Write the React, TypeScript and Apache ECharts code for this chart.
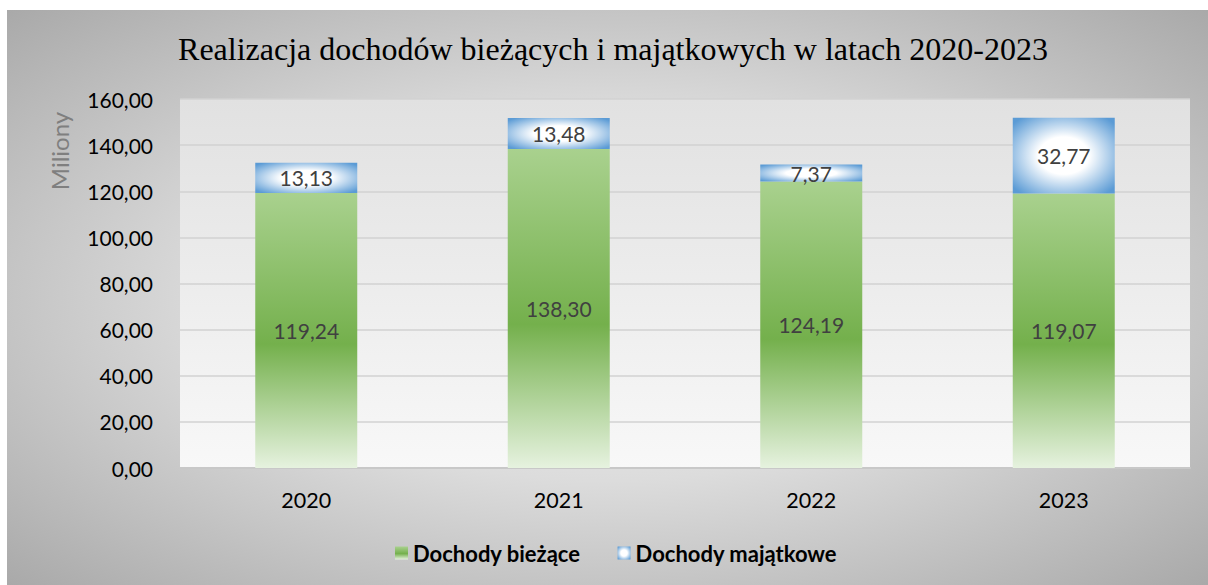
import React, { useEffect, useRef } from "react";
import * as echarts from "echarts";

const categories = ["2020", "2021", "2022", "2023"];
const biezace = [119.24, 138.3, 124.19, 119.07];
const majatkowe = [13.13, 13.48, 7.37, 32.77];
const yTicks = { min: 0, max: 160, interval: 20 };

const fmt = (v: number) => v.toFixed(2).replace(".", ",");

const FONT = "Lato";

export default function App() {
  const ref = useRef<HTMLDivElement>(null);
  useEffect(() => {
    if (!ref.current) return;
    const chart = echarts.init(ref.current, null, { renderer: "svg" });
    const green = new echarts.graphic.LinearGradient(0, 0, 0, 1, [
      { offset: 0, color: "#a9d18e" },
      { offset: 0.55, color: "#74b04c" },
      { offset: 1, color: "#e6f2df" },
    ]);
    const blue = new echarts.graphic.RadialGradient(0.5, 0.5, 0.65, [
      { offset: 0, color: "#ffffff" },
      { offset: 0.38, color: "#ffffff" },
      { offset: 1, color: "#5b9bd5" },
    ]);
    chart.setOption({
      animation: false,
      backgroundColor: "transparent",
      title: {
        text: "Realizacja dochodów bieżących i majątkowych w latach 2020-2023",
        left: 601,
        top: 18,
        textAlign: "center",
        textStyle: {
          fontFamily: "Liberation Serif",
          fontSize: 32,
          fontWeight: "normal",
          color: "#000000",
        },
      },
      graphic: [
        {
          type: "text",
          x: 52,
          y: 141,
          rotation: Math.PI / 2,
          style: {
            text: "Miliony",
            fontFamily: FONT,
            fontSize: 24,
            fill: "#7f7f7f",
            textAlign: "center",
            textVerticalAlign: "middle",
          },
        },
      ],
      legend: {
        top: 527,
        left: 383,
        itemWidth: 13,
        itemHeight: 13,
        itemGap: 37,
        icon: "rect",
        textStyle: {
          fontFamily: FONT,
          fontSize: 22,
          fontWeight: "bold",
          color: "#000000",
        },
        data: ["Dochody bieżące", "Dochody majątkowe"],
      },
      grid: {
        left: 173,
        right: 18,
        top: 89,
        bottom: 117,
        show: true,
        borderWidth: 0,
        backgroundColor: new echarts.graphic.LinearGradient(0, 0, 0, 1, [
          { offset: 0, color: "#e1e1e1" },
          { offset: 1, color: "#f8f8f8" },
        ]),
      },
      xAxis: {
        type: "category",
        data: categories,
        axisLine: { lineStyle: { color: "#c8c8c8", width: 2 } },
        axisTick: { show: false },
        axisLabel: {
          fontFamily: FONT,
          fontSize: 21.5,
          color: "#000000",
          margin: 21,
        },
      },
      yAxis: {
        type: "value",
        min: yTicks.min,
        max: yTicks.max,
        interval: yTicks.interval,
        axisLine: { show: false },
        axisTick: { show: false },
        splitLine: { lineStyle: { color: "#d2d2d2", width: 1.5 } },
        axisLabel: {
          fontFamily: FONT,
          fontSize: 21,
          color: "#000000",
          margin: 27,
          formatter: (v: number) => fmt(v),
        },
      },
      series: [
        {
          name: "Dochody bieżące",
          type: "bar",
          stack: "total",
          barWidth: 102,
          data: biezace,
          itemStyle: { color: green },
          label: {
            show: true,
            position: "inside",
            fontFamily: FONT,
            fontSize: 21,
            color: "#404040",
            formatter: (p: any) => fmt(p.value),
          },
        },
        {
          name: "Dochody majątkowe",
          type: "bar",
          stack: "total",
          barWidth: 102,
          data: majatkowe,
          itemStyle: { color: blue },
          label: {
            show: true,
            position: "inside",
            fontFamily: FONT,
            fontSize: 21,
            color: "#404040",
            formatter: (p: any) => fmt(p.value),
          },
        },
      ],
    });
    return () => chart.dispose();
  }, []);
  return (
    <div
      style={{
        position: "absolute",
        left: 7,
        top: 10,
        width: 1201,
        height: 575,
        background:
          "radial-gradient(ellipse at 50% 50%, #f2f2f2 0%, #dcdcdc 45%, #a9a9a9 100%)",
      }}
    >
      <div ref={ref} style={{ width: 1201, height: 575 }} />
    </div>
  );
}
